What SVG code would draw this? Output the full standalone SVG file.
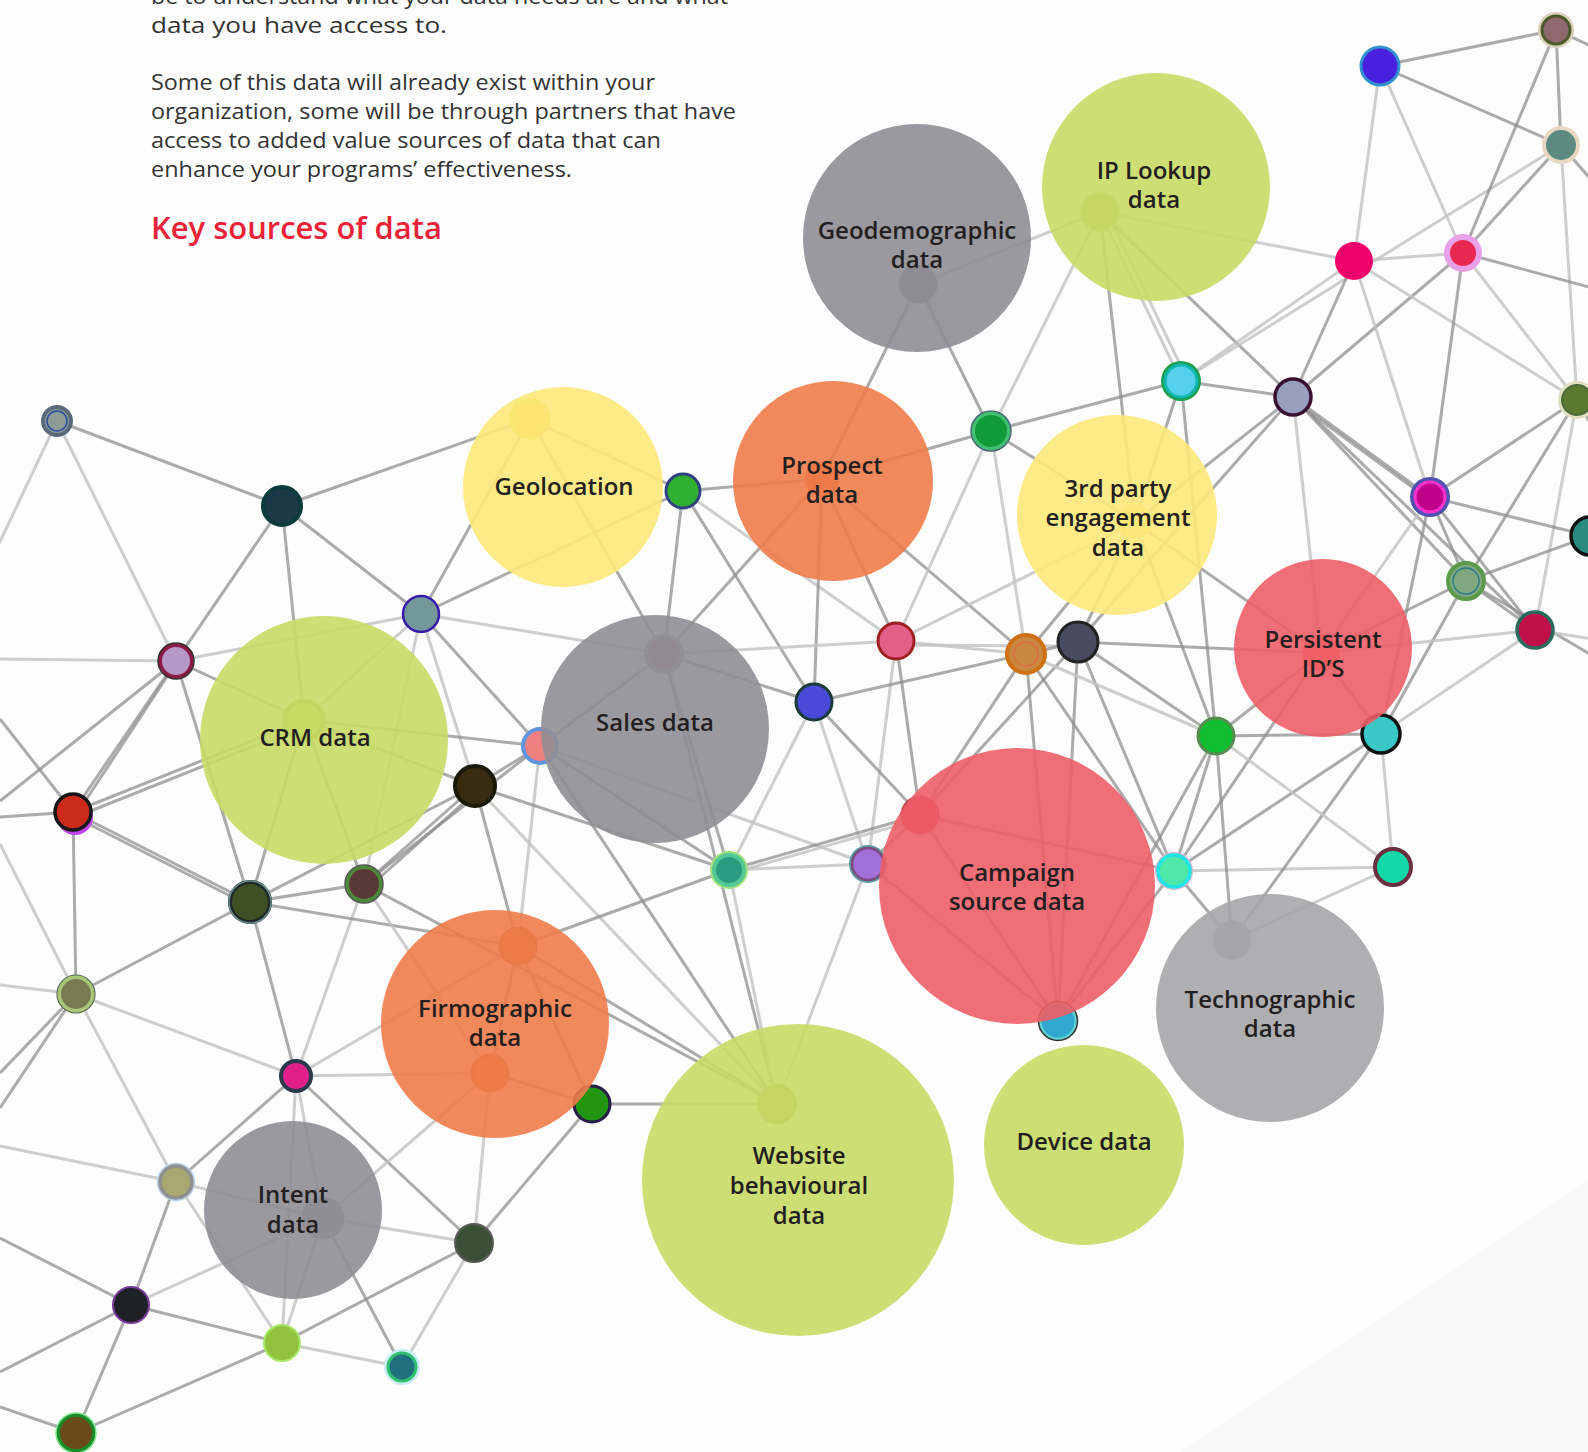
<svg xmlns="http://www.w3.org/2000/svg" width="1588" height="1452" viewBox="0 0 1588 1452">
<style>
.e{stroke:#8a8a8a;stroke-width:3;stroke-opacity:.72;fill:none}
.l{stroke:#c2c2c2;stroke-width:3;stroke-opacity:.8;fill:none}
.big{fill-opacity:.9}
.lb{font-family:"Open Sans","Noto Sans",sans-serif;font-weight:600;font-size:24px;fill:#231f20;text-anchor:middle}
.p{font-family:"Open Sans","Noto Sans",sans-serif;font-weight:400;font-size:22px;fill:#333333}
</style>
<rect width="1588" height="1452" fill="#fdfdfd"/>
<polygon points="1180,1452 1588,1180 1588,1452" fill="#f8f8f8"/>
<g id="intro">
<text class="p" x="151" y="4" textLength="577" lengthAdjust="spacingAndGlyphs">be to understand what your data needs are and what</text>
<text class="p" x="151" y="33" textLength="296" lengthAdjust="spacingAndGlyphs">data you have access to.</text>
<text class="p" x="151" y="90" textLength="504" lengthAdjust="spacingAndGlyphs">Some of this data will already exist within your</text>
<text class="p" x="151" y="119" textLength="585" lengthAdjust="spacingAndGlyphs">organization, some will be through partners that have</text>
<text class="p" x="151" y="148" textLength="510" lengthAdjust="spacingAndGlyphs">access to added value sources of data that can</text>
<text class="p" x="151" y="177" textLength="421" lengthAdjust="spacingAndGlyphs">enhance your programs’ effectiveness.</text>
<text x="151" y="239" textLength="291" lengthAdjust="spacingAndGlyphs" style="font-family:'Open Sans','Noto Sans',sans-serif;font-weight:600;font-size:30px;fill:#ec2238">Key sources of data</text>
</g>
<g id="connectors">
<line class="e" x1="57" y1="421" x2="282" y2="506"/>
<line class="l" x1="57" y1="421" x2="176" y2="661"/>
<line class="l" x1="57" y1="421" x2="-10" y2="563"/>
<line class="e" x1="282" y1="506" x2="530" y2="419"/>
<line class="e" x1="282" y1="506" x2="176" y2="661"/>
<line class="e" x1="282" y1="506" x2="304" y2="720"/>
<line class="e" x1="282" y1="506" x2="421" y2="614"/>
<line class="e" x1="421" y1="614" x2="530" y2="419"/>
<line class="e" x1="421" y1="614" x2="683" y2="491"/>
<line class="l" x1="421" y1="614" x2="664" y2="654"/>
<line class="e" x1="421" y1="614" x2="540" y2="746"/>
<line class="l" x1="421" y1="614" x2="475" y2="786"/>
<line class="l" x1="176" y1="661" x2="421" y2="614"/>
<line class="l" x1="421" y1="614" x2="364" y2="884"/>
<line class="l" x1="421" y1="614" x2="304" y2="720"/>
<line class="l" x1="176" y1="661" x2="0" y2="659"/>
<line class="e" x1="176" y1="661" x2="73" y2="812"/>
<line class="e" x1="174" y1="666" x2="78" y2="812"/>
<line class="e" x1="176" y1="661" x2="250" y2="902"/>
<line class="e" x1="176" y1="661" x2="304" y2="720"/>
<line class="e" x1="176" y1="661" x2="0" y2="801"/>
<line class="e" x1="73" y1="812" x2="0" y2="817"/>
<line class="e" x1="73" y1="812" x2="0" y2="719"/>
<line class="e" x1="73" y1="812" x2="304" y2="720"/>
<line class="e" x1="73" y1="818" x2="304" y2="726"/>
<line class="e" x1="73" y1="812" x2="250" y2="902"/>
<line class="e" x1="73" y1="816" x2="250" y2="906"/>
<line class="e" x1="73" y1="812" x2="76" y2="994"/>
<line class="e" x1="250" y1="902" x2="304" y2="720"/>
<line class="e" x1="250" y1="902" x2="364" y2="884"/>
<line class="e" x1="250" y1="902" x2="475" y2="786"/>
<line class="e" x1="364" y1="884" x2="475" y2="786"/>
<line class="e" x1="368" y1="888" x2="478" y2="790"/>
<line class="e" x1="364" y1="884" x2="540" y2="746"/>
<line class="e" x1="364" y1="884" x2="304" y2="720"/>
<line class="e" x1="304" y1="720" x2="475" y2="786"/>
<line class="e" x1="304" y1="720" x2="540" y2="746"/>
<line class="e" x1="475" y1="786" x2="540" y2="746"/>
<line class="e" x1="475" y1="786" x2="518" y2="946"/>
<line class="l" x1="540" y1="746" x2="518" y2="946"/>
<line class="e" x1="475" y1="786" x2="729" y2="870"/>
<line class="e" x1="250" y1="902" x2="296" y2="1076"/>
<line class="e" x1="250" y1="902" x2="76" y2="994"/>
<line class="l" x1="364" y1="884" x2="296" y2="1076"/>
<line class="e" x1="250" y1="902" x2="518" y2="946"/>
<line class="l" x1="364" y1="884" x2="490" y2="1073"/>
<line class="e" x1="364" y1="884" x2="777" y2="1104"/>
<line class="e" x1="540" y1="746" x2="777" y2="1104"/>
<line class="l" x1="475" y1="786" x2="777" y2="1104"/>
<line class="e" x1="664" y1="654" x2="777" y2="1104"/>
<line class="l" x1="729" y1="870" x2="777" y2="1104"/>
<line class="l" x1="868" y1="864" x2="777" y2="1104"/>
<line class="e" x1="592" y1="1104" x2="777" y2="1104"/>
<line class="e" x1="518" y1="946" x2="777" y2="1104"/>
<line class="l" x1="76" y1="994" x2="0" y2="985"/>
<line class="e" x1="76" y1="994" x2="0" y2="1073"/>
<line class="e" x1="76" y1="994" x2="0" y2="1108"/>
<line class="l" x1="76" y1="994" x2="0" y2="844"/>
<line class="l" x1="76" y1="994" x2="296" y2="1076"/>
<line class="l" x1="76" y1="994" x2="176" y2="1182"/>
<line class="e" x1="296" y1="1076" x2="176" y2="1182"/>
<line class="l" x1="296" y1="1076" x2="490" y2="1073"/>
<line class="l" x1="296" y1="1076" x2="518" y2="946"/>
<line class="e" x1="296" y1="1076" x2="474" y2="1243"/>
<line class="l" x1="296" y1="1076" x2="282" y2="1343"/>
<line class="l" x1="296" y1="1076" x2="323" y2="1218"/>
<line class="l" x1="176" y1="1182" x2="0" y2="1146"/>
<line class="l" x1="176" y1="1182" x2="323" y2="1218"/>
<line class="e" x1="176" y1="1182" x2="131" y2="1305"/>
<line class="l" x1="176" y1="1182" x2="282" y2="1343"/>
<line class="e" x1="131" y1="1305" x2="0" y2="1238"/>
<line class="e" x1="131" y1="1305" x2="0" y2="1372"/>
<line class="e" x1="131" y1="1305" x2="76" y2="1433"/>
<line class="e" x1="131" y1="1305" x2="282" y2="1343"/>
<line class="l" x1="131" y1="1305" x2="323" y2="1218"/>
<line class="l" x1="282" y1="1343" x2="323" y2="1218"/>
<line class="e" x1="282" y1="1343" x2="474" y2="1243"/>
<line class="l" x1="282" y1="1343" x2="402" y2="1367"/>
<line class="e" x1="76" y1="1433" x2="282" y2="1343"/>
<line class="e" x1="76" y1="1433" x2="0" y2="1407"/>
<line class="l" x1="402" y1="1367" x2="474" y2="1243"/>
<line class="e" x1="402" y1="1367" x2="323" y2="1218"/>
<line class="l" x1="474" y1="1243" x2="323" y2="1218"/>
<line class="l" x1="474" y1="1243" x2="490" y2="1073"/>
<line class="e" x1="474" y1="1243" x2="592" y2="1104"/>
<line class="e" x1="592" y1="1104" x2="490" y2="1073"/>
<line class="e" x1="592" y1="1104" x2="518" y2="946"/>
<line class="l" x1="490" y1="1073" x2="323" y2="1218"/>
<line class="e" x1="518" y1="946" x2="729" y2="870"/>
<line class="e" x1="518" y1="946" x2="490" y2="1073"/>
<line class="e" x1="530" y1="419" x2="683" y2="491"/>
<line class="e" x1="530" y1="419" x2="664" y2="654"/>
<line class="e" x1="683" y1="491" x2="822" y2="479"/>
<line class="e" x1="683" y1="491" x2="664" y2="654"/>
<line class="e" x1="683" y1="491" x2="814" y2="702"/>
<line class="l" x1="683" y1="491" x2="896" y2="641"/>
<line class="e" x1="822" y1="479" x2="991" y2="431"/>
<line class="e" x1="822" y1="479" x2="814" y2="702"/>
<line class="e" x1="822" y1="479" x2="664" y2="654"/>
<line class="e" x1="822" y1="479" x2="896" y2="641"/>
<line class="e" x1="822" y1="479" x2="1026" y2="654"/>
<line class="e" x1="918" y1="284" x2="822" y2="479"/>
<line class="l" x1="991" y1="431" x2="896" y2="641"/>
<line class="l" x1="991" y1="431" x2="1026" y2="654"/>
<line class="e" x1="991" y1="431" x2="1181" y2="381"/>
<line class="e" x1="991" y1="431" x2="1135" y2="522"/>
<line class="e" x1="991" y1="431" x2="918" y2="284"/>
<line class="l" x1="991" y1="431" x2="1100" y2="212"/>
<line class="l" x1="896" y1="641" x2="1026" y2="654"/>
<line class="l" x1="896" y1="645" x2="1078" y2="646"/>
<line class="l" x1="664" y1="654" x2="896" y2="641"/>
<line class="l" x1="896" y1="641" x2="1135" y2="522"/>
<line class="e" x1="896" y1="641" x2="920" y2="815"/>
<line class="l" x1="896" y1="641" x2="868" y2="864"/>
<line class="e" x1="814" y1="702" x2="1026" y2="654"/>
<line class="e" x1="814" y1="702" x2="664" y2="654"/>
<line class="l" x1="814" y1="702" x2="729" y2="870"/>
<line class="e" x1="814" y1="702" x2="920" y2="815"/>
<line class="l" x1="814" y1="702" x2="868" y2="864"/>
<line class="e" x1="664" y1="654" x2="540" y2="746"/>
<line class="e" x1="540" y1="746" x2="729" y2="870"/>
<line class="l" x1="540" y1="746" x2="868" y2="864"/>
<line class="l" x1="729" y1="870" x2="868" y2="864"/>
<line class="e" x1="729" y1="870" x2="920" y2="815"/>
<line class="l" x1="729" y1="874" x2="920" y2="819"/>
<line class="e" x1="664" y1="654" x2="729" y2="870"/>
<line class="e" x1="1026" y1="654" x2="1078" y2="642"/>
<line class="e" x1="1026" y1="654" x2="920" y2="815"/>
<line class="e" x1="1078" y1="642" x2="920" y2="815"/>
<line class="e" x1="920" y1="815" x2="1174" y2="871"/>
<line class="e" x1="920" y1="815" x2="1058" y2="1021"/>
<line class="e" x1="868" y1="864" x2="1058" y2="1021"/>
<line class="e" x1="1026" y1="654" x2="1058" y2="1021"/>
<line class="e" x1="1078" y1="642" x2="1058" y2="1021"/>
<line class="e" x1="1174" y1="871" x2="1058" y2="1021"/>
<line class="e" x1="1216" y1="736" x2="1058" y2="1021"/>
<line class="e" x1="868" y1="864" x2="920" y2="815"/>
<line class="e" x1="1174" y1="871" x2="1232" y2="940"/>
<line class="l" x1="1174" y1="871" x2="1393" y2="867"/>
<line class="e" x1="1174" y1="871" x2="1216" y2="736"/>
<line class="e" x1="1174" y1="871" x2="1078" y2="642"/>
<line class="e" x1="1174" y1="871" x2="1026" y2="654"/>
<line class="e" x1="1174" y1="871" x2="1381" y2="734"/>
<line class="e" x1="1174" y1="871" x2="1321" y2="653"/>
<line class="l" x1="918" y1="284" x2="1100" y2="212"/>
<line class="l" x1="1100" y1="212" x2="1354" y2="261"/>
<line class="l" x1="1100" y1="212" x2="1181" y2="381"/>
<line class="l" x1="1106" y1="210" x2="1187" y2="379"/>
<line class="e" x1="1100" y1="212" x2="1135" y2="522"/>
<line class="e" x1="1100" y1="212" x2="1293" y2="397"/>
<line class="l" x1="1181" y1="381" x2="1354" y2="261"/>
<line class="e" x1="1181" y1="381" x2="1293" y2="397"/>
<line class="e" x1="1181" y1="381" x2="1135" y2="522"/>
<line class="l" x1="1181" y1="381" x2="1561" y2="145"/>
<line class="e" x1="1293" y1="397" x2="1354" y2="261"/>
<line class="e" x1="1293" y1="397" x2="1135" y2="522"/>
<line class="l" x1="1354" y1="261" x2="1380" y2="66"/>
<line class="l" x1="1354" y1="261" x2="1463" y2="253"/>
<line class="e" x1="1380" y1="66" x2="1556" y2="30"/>
<line class="e" x1="1380" y1="66" x2="1561" y2="145"/>
<line class="l" x1="1380" y1="66" x2="1463" y2="253"/>
<line class="e" x1="1556" y1="30" x2="1561" y2="145"/>
<line class="e" x1="1556" y1="30" x2="1463" y2="253"/>
<line class="e" x1="1556" y1="30" x2="1600" y2="50"/>
<line class="e" x1="1561" y1="145" x2="1463" y2="253"/>
<line class="l" x1="1561" y1="145" x2="1577" y2="400"/>
<line class="e" x1="1561" y1="145" x2="1600" y2="190"/>
<line class="e" x1="1463" y1="253" x2="1293" y2="397"/>
<line class="l" x1="1354" y1="261" x2="1430" y2="497"/>
<line class="l" x1="1354" y1="261" x2="1577" y2="400"/>
<line class="e" x1="1463" y1="253" x2="1430" y2="497"/>
<line class="l" x1="1463" y1="253" x2="1577" y2="400"/>
<line class="e" x1="1463" y1="253" x2="1600" y2="290"/>
<line class="e" x1="1577" y1="400" x2="1430" y2="497"/>
<line class="e" x1="1577" y1="400" x2="1466" y2="581"/>
<line class="l" x1="1577" y1="400" x2="1535" y2="630"/>
<line class="e" x1="1577" y1="400" x2="1600" y2="440"/>
<line class="e" x1="1293" y1="397" x2="1430" y2="497"/>
<line class="e" x1="1297" y1="403" x2="1434" y2="503"/>
<line class="e" x1="1293" y1="397" x2="1466" y2="581"/>
<line class="e" x1="1293" y1="397" x2="1535" y2="630"/>
<line class="l" x1="1293" y1="397" x2="1321" y2="653"/>
<line class="e" x1="1430" y1="497" x2="1466" y2="581"/>
<line class="e" x1="1430" y1="497" x2="1535" y2="630"/>
<line class="e" x1="1430" y1="497" x2="1590" y2="536"/>
<line class="l" x1="1430" y1="497" x2="1321" y2="653"/>
<line class="e" x1="1430" y1="497" x2="1381" y2="734"/>
<line class="e" x1="1466" y1="581" x2="1381" y2="734"/>
<line class="e" x1="1466" y1="581" x2="1321" y2="653"/>
<line class="e" x1="1466" y1="581" x2="1590" y2="536"/>
<line class="e" x1="1466" y1="581" x2="1535" y2="630"/>
<line class="e" x1="1466" y1="581" x2="1600" y2="660"/>
<line class="l" x1="1535" y1="630" x2="1321" y2="653"/>
<line class="l" x1="1535" y1="630" x2="1381" y2="734"/>
<line class="l" x1="1535" y1="630" x2="1600" y2="640"/>
<line class="e" x1="1078" y1="642" x2="1321" y2="653"/>
<line class="e" x1="1078" y1="642" x2="1216" y2="736"/>
<line class="e" x1="1078" y1="642" x2="1135" y2="522"/>
<line class="e" x1="1078" y1="642" x2="1293" y2="397"/>
<line class="l" x1="1026" y1="654" x2="1216" y2="736"/>
<line class="e" x1="1026" y1="654" x2="1135" y2="522"/>
<line class="e" x1="1216" y1="736" x2="1232" y2="940"/>
<line class="e" x1="1216" y1="736" x2="1381" y2="734"/>
<line class="e" x1="1216" y1="736" x2="1321" y2="653"/>
<line class="e" x1="1216" y1="736" x2="1135" y2="522"/>
<line class="l" x1="1381" y1="734" x2="1393" y2="867"/>
<line class="e" x1="1381" y1="734" x2="1232" y2="940"/>
<line class="l" x1="1393" y1="867" x2="1232" y2="940"/>
<line class="l" x1="1216" y1="736" x2="1393" y2="867"/>
<line class="e" x1="1181" y1="381" x2="1216" y2="736"/>
<line class="e" x1="1321" y1="653" x2="1135" y2="522"/>
<line class="e" x1="1321" y1="653" x2="1381" y2="734"/>
</g>
<g id="hidden-nodes">
<circle cx="530" cy="419" r="19" fill="#f5b820" stroke="#d8d030" stroke-width="4"/>
<circle cx="918" cy="284" r="18" fill="#7c7a92" stroke="#888" stroke-width="3"/>
<circle cx="1100" cy="212" r="18" fill="#aab840" stroke="#b4c050" stroke-width="3"/>
<circle cx="822" cy="479" r="16" fill="#e06a40" stroke="#e37a48" stroke-width="3"/>
<circle cx="1135" cy="522" r="16" fill="#f8e070" stroke="#f0da70" stroke-width="3"/>
<circle cx="664" cy="654" r="18" fill="#b07888" stroke="#a0a0a0" stroke-width="4"/>
<circle cx="304" cy="720" r="19" fill="#c0dc48" stroke="#a8a434" stroke-width="5"/>
<circle cx="518" cy="946" r="18" fill="#d86a40" stroke="#b86840" stroke-width="3"/>
<circle cx="490" cy="1073" r="18" fill="#e46e44" stroke="#c06a44" stroke-width="3"/>
<circle cx="777" cy="1104" r="18" fill="#a8ac38" stroke="#a0a040" stroke-width="4"/>
<circle cx="1232" cy="940" r="18" fill="#989088" stroke="#a0a0a0" stroke-width="3"/>
<circle cx="323" cy="1218" r="20" fill="#8a968a" stroke="#969696" stroke-width="3"/>
<circle cx="1321" cy="653" r="17" fill="#f07a50" stroke="#f07060" stroke-width="3"/>
</g>
<g id="n-A"><circle cx="57" cy="421" r="14" fill="#8e9c96" stroke="#5a6a7a" stroke-width="4"/><circle cx="57" cy="421" r="10" fill="none" stroke="#2a4aa0" stroke-width="1.5"/></g>
<g id="n-B"><circle cx="282" cy="506" r="19" fill="#1e3848" stroke="#0a3c3c" stroke-width="4"/></g>
<g id="n-C"><circle cx="176" cy="661" r="16" fill="#b497c6" stroke="#8a1c44" stroke-width="4"/><circle cx="176" cy="661" r="18" fill="none" stroke="#333" stroke-width="1.5"/></g>
<g id="n-D"><circle cx="421" cy="614" r="18" fill="#72989a" stroke="#3a1aa8" stroke-width="2.5"/></g>
<g id="n-E"><circle cx="75" cy="817" r="18" fill="#c044f0"/><circle cx="73" cy="812" r="18" fill="#cc2a1a" stroke="#161616" stroke-width="3.5"/></g>
<g id="n-F"><circle cx="250" cy="902" r="20" fill="#3c5024" stroke="#1e2a2a" stroke-width="4"/><circle cx="250" cy="902" r="21" fill="none" stroke="#6a8a8a" stroke-width="1.5"/></g>
<g id="n-G"><circle cx="364" cy="884" r="17" fill="#5a3838" stroke="#4a8a3a" stroke-width="4"/><circle cx="364" cy="884" r="19" fill="none" stroke="#555" stroke-width="1.5"/></g>
<g id="n-H"><circle cx="475" cy="786" r="20" fill="#382c10" stroke="#1a1a0a" stroke-width="4"/></g>
<g id="n-I"><circle cx="540" cy="746" r="17" fill="#f08080" stroke="#6494e0" stroke-width="4"/></g>
<g id="n-J"><circle cx="76" cy="994" r="17" fill="#7a7a52" stroke="#a8c878" stroke-width="4"/><circle cx="76" cy="994" r="19" fill="none" stroke="#5a6a5a" stroke-width="1.2"/></g>
<g id="n-K"><circle cx="296" cy="1076" r="15" fill="#e0208a" stroke="#2a3a4a" stroke-width="4"/></g>
<g id="n-L"><circle cx="176" cy="1182" r="16" fill="#a8a870" stroke="#909090" stroke-width="4"/><circle cx="176" cy="1182" r="18.5" fill="none" stroke="#b8d0e8" stroke-width="1.5"/></g>
<g id="n-M"><circle cx="131" cy="1305" r="18" fill="#1e2228" stroke="#7a3a9a" stroke-width="2"/></g>
<g id="n-N"><circle cx="282" cy="1343" r="18" fill="#92c23e" stroke="#a8e868" stroke-width="2"/></g>
<g id="n-O"><circle cx="402" cy="1367" r="18" fill="#c8ecf4"/><circle cx="402" cy="1367" r="14" fill="#207080" stroke="#30c070" stroke-width="3"/></g>
<g id="n-P"><circle cx="474" cy="1243" r="19" fill="#3c5038" stroke="#5a5a5a" stroke-width="2"/></g>
<g id="n-Q"><circle cx="76" cy="1433" r="18" fill="#6a4a1a" stroke="#1a8a2a" stroke-width="4"/><circle cx="76" cy="1433" r="20" fill="none" stroke="#80e890" stroke-width="1.5"/></g>
<g id="n-R"><circle cx="592" cy="1104" r="18" fill="#229410" stroke="#2a1a4a" stroke-width="3"/></g>
<g id="n-S"><circle cx="683" cy="491" r="17" fill="#30b030" stroke="#304080" stroke-width="3"/></g>
<g id="n-T"><circle cx="729" cy="870" r="19" fill="#9ee07a"/><circle cx="729" cy="870" r="15" fill="#2a9a80" stroke="#52c894" stroke-width="4"/></g>
<g id="n-U"><circle cx="814" cy="702" r="18" fill="#4a4ad8" stroke="#1a3a3a" stroke-width="3"/></g>
<g id="n-V"><circle cx="896" cy="641" r="18" fill="#e06088" stroke="#a02020" stroke-width="3"/></g>
<g id="n-W"><circle cx="868" cy="864" r="19" fill="#5aa0a0"/><circle cx="868" cy="864" r="16" fill="#a070d8" stroke="#7a4a7a" stroke-width="2.5"/></g>
<g id="n-X"><circle cx="920" cy="815" r="18" fill="#e02848" stroke="#c04050" stroke-width="3"/></g>
<g id="n-Y"><circle cx="991" cy="431" r="18" fill="#109a3a" stroke="#40c070" stroke-width="4"/><circle cx="991" cy="431" r="20" fill="none" stroke="#4a6a7a" stroke-width="1.5"/></g>
<g id="n-Z"><circle cx="1026" cy="654" r="19" fill="#c88840" stroke="#d07010" stroke-width="4"/><circle cx="1026" cy="654" r="12" fill="none" stroke="#e06a40" stroke-width="1.5"/></g>
<g id="n-AA"><circle cx="1078" cy="642" r="20" fill="#4a4a60" stroke="#222" stroke-width="3"/></g>
<g id="n-AB"><circle cx="1181" cy="381" r="20" fill="#1aa050"/><circle cx="1181" cy="381" r="16" fill="#54d0ec" stroke="#10b8b0" stroke-width="3"/></g>
<g id="n-AC"><circle cx="1293" cy="397" r="18" fill="#98a0c0" stroke="#3a1030" stroke-width="3.5"/></g>
<g id="n-AD"><circle cx="1216" cy="736" r="18" fill="#10c030" stroke="#5a8a50" stroke-width="3"/></g>
<g id="n-AE"><circle cx="1174" cy="871" r="19" fill="#d0b8d0"/><circle cx="1174" cy="871" r="16" fill="#50e8a8" stroke="#20e4e8" stroke-width="3.5"/></g>
<g id="n-AF"><circle cx="1381" cy="734" r="19" fill="#38c8c8" stroke="#111" stroke-width="3.5"/></g>
<g id="n-AG"><circle cx="1393" cy="867" r="18" fill="#10d8a8" stroke="#6a3040" stroke-width="4"/></g>
<g id="n-AH"><circle cx="1354" cy="261" r="19" fill="#f0006a"/></g>
<g id="n-AI"><circle cx="1463" cy="253" r="19" fill="#e8a0e8"/><circle cx="1463" cy="253" r="13" fill="#e82850"/></g>
<g id="n-AJ"><circle cx="1380" cy="66" r="19" fill="#4a20e0" stroke="#3090d0" stroke-width="3"/></g>
<g id="n-AK"><circle cx="1556" cy="30" r="18" fill="#d8d0b8"/><circle cx="1556" cy="30" r="14" fill="#906870" stroke="#4a5a2a" stroke-width="3"/></g>
<g id="n-AL"><circle cx="1561" cy="145" r="19" fill="#e8d8c0"/><circle cx="1561" cy="145" r="15" fill="#5a8a80"/></g>
<g id="n-AM"><circle cx="1577" cy="400" r="19" fill="#e0e0c0"/><circle cx="1577" cy="400" r="15" fill="#5a7a30" stroke="#4a6a3a" stroke-width="2"/></g>
<g id="n-AN"><circle cx="1430" cy="497" r="20" fill="#5050b0"/><circle cx="1430" cy="497" r="15" fill="#c0008a" stroke="#ff30d0" stroke-width="3"/></g>
<g id="n-AO"><circle cx="1466" cy="581" r="18" fill="#80a880" stroke="#5a9a4a" stroke-width="4"/><circle cx="1466" cy="581" r="13" fill="none" stroke="#2a7a8a" stroke-width="1.5"/></g>
<g id="n-AP"><circle cx="1535" cy="630" r="18" fill="#c0104a" stroke="#2a6a5a" stroke-width="3.5"/></g>
<g id="n-AQ"><circle cx="1590" cy="536" r="19" fill="#2a8a80" stroke="#111" stroke-width="3.5"/></g>
<g id="n-AR"><circle cx="1058" cy="1021" r="18" fill="#30a8d0" stroke="#60d0d0" stroke-width="3"/><circle cx="1058" cy="1021" r="19.5" fill="none" stroke="#333" stroke-width="1.5"/></g>
<g id="geodemographic"><circle class="big" cx="917" cy="238" r="114" fill="#8f8e94"/><text class="lb" x="917" y="239">Geodemographic</text><text class="lb" x="917" y="268">data</text></g>
<g id="ip-lookup"><circle class="big" cx="1156" cy="187" r="114" fill="#c8da66"/><text class="lb" x="1154" y="179">IP Lookup</text><text class="lb" x="1154" y="208">data</text></g>
<g id="geolocation"><circle class="big" cx="563" cy="487" r="100" fill="#fee97a"/><text class="lb" x="564" y="495">Geolocation</text></g>
<g id="prospect"><circle class="big" cx="833" cy="481" r="100" fill="#f07c4a"/><text class="lb" x="832" y="474">Prospect</text><text class="lb" x="832" y="503">data</text></g>
<g id="third-party"><circle class="big" cx="1117" cy="515" r="100" fill="#fee97a"/><text class="lb" x="1118" y="497">3rd party</text><text class="lb" x="1118" y="526">engagement</text><text class="lb" x="1118" y="556">data</text></g>
<g id="persistent"><circle class="big" cx="1323" cy="648" r="89" fill="#ee5e67"/><text class="lb" x="1323" y="648">Persistent</text><text class="lb" x="1323" y="677">ID’S</text></g>
<g id="crm"><circle class="big" cx="324" cy="740" r="124" fill="#c8da66"/><text class="lb" x="315" y="746">CRM data</text></g>
<g id="sales"><circle class="big" cx="655" cy="729" r="114" fill="#8f8e94"/><text class="lb" x="655" y="731">Sales data</text></g>
<g id="campaign"><circle class="big" cx="1017" cy="886" r="138" fill="#ee5e67"/><text class="lb" x="1017" y="881">Campaign</text><text class="lb" x="1017" y="910">source data</text></g>
<g id="firmographic"><circle class="big" cx="495" cy="1024" r="114" fill="#f07c4a"/><text class="lb" x="495" y="1017">Firmographic</text><text class="lb" x="495" y="1046">data</text></g>
<g id="technographic"><circle class="big" cx="1270" cy="1008" r="114" fill="#a6a6aa"/><text class="lb" x="1270" y="1008">Technographic</text><text class="lb" x="1270" y="1037">data</text></g>
<g id="device"><circle class="big" cx="1084" cy="1145" r="100" fill="#c8da66"/><text class="lb" x="1084" y="1150">Device data</text></g>
<g id="website"><circle class="big" cx="798" cy="1180" r="156" fill="#c8da66"/><text class="lb" x="799" y="1164">Website</text><text class="lb" x="799" y="1194">behavioural</text><text class="lb" x="799" y="1224">data</text></g>
<g id="intent"><circle class="big" cx="293" cy="1210" r="89" fill="#8f8e94"/><text class="lb" x="293" y="1203">Intent</text><text class="lb" x="293" y="1233">data</text></g>
</svg>
